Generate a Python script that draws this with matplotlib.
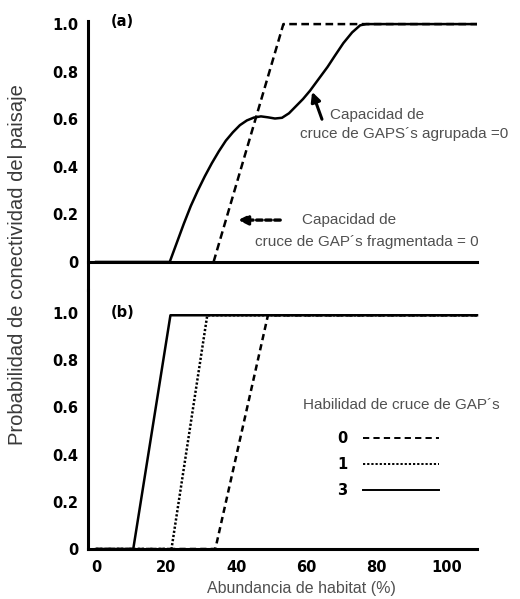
import matplotlib
matplotlib.use("Agg")
import matplotlib.pyplot as plt
from matplotlib.lines import Line2D

# Panel (a): connectivity vs habitat abundance
agrupada_x = [0, 21, 23, 25, 27, 29, 31, 33, 35, 37, 39, 41, 43, 45, 47, 49, 51, 53,
              55, 57, 59, 61, 63, 66, 68, 70.5, 73, 75.3, 77, 108.6]
agrupada_y = [0, 0, 0.08, 0.16, 0.235, 0.30, 0.36, 0.415, 0.465, 0.51, 0.545, 0.575,
              0.595, 0.607, 0.612, 0.608, 0.603, 0.606, 0.625, 0.655, 0.685, 0.72,
              0.76, 0.82, 0.865, 0.92, 0.965, 0.995, 1.0, 1.0]
fragmentada_x = [33.5, 53.4, 108.6]
fragmentada_y = [0, 1.0, 1.0]

# Panel (b): gap-crossing ability 0, 1, 3
cruce_labels = ["0", "1", "3"]
cruce_x = {"0": [0, 34, 49, 108.6],
           "1": [0, 21.5, 31.7, 108.6],
           "3": [0, 10.6, 21.2, 108.6]}
cruce_y = {"0": [0, 0, 0.99, 0.99],
           "1": [0, 0, 0.99, 0.99],
           "3": [0, 0, 0.99, 0.99]}

y_ticks = [0, 0.2, 0.4, 0.6, 0.8, 1.0]
y_ticklabels = ["0", "0.2", "0.4", "0.6", "0.8", "1.0"]
x_ticks = [0, 20, 40, 60, 80, 100]
x_ticklabels = ["0", "20", "40", "60", "80", "100"]

plt.rcParams["font.family"] = ["Liberation Sans", "DejaVu Sans"]
plt.rcParams["lines.scale_dashes"] = False
plt.rcParams["lines.solid_joinstyle"] = "round"

W, H = 520, 599
fig = plt.figure(figsize=(W / 100, H / 100), dpi=100)


def box(l, t, r, b):
    return [l / W, 1 - b / H, (r - l) / W, (b - t) / H]


def fpos(x, y):
    return (x / W, 1 - y / H)


ax_a = fig.add_axes(box(88, 21, 477, 290))
ax_b = fig.add_axes(box(88, 290, 477, 549))

grey = "#505050"
tick_font = dict(fontfamily="DejaVu Sans", fontweight="bold", fontsize=10.5)
styles = {"0": (0, (4.5, 3)), "1": (0, (1.6, 1.4)), "3": "-"}

for ax in (ax_a, ax_b):
    ax.set_xlim(-2.3, 108.6)
    for s in ("top", "right"):
        ax.spines[s].set_visible(False)
    for s in ("left", "bottom"):
        ax.spines[s].set_linewidth(2.2)
    ax.set_yticks(y_ticks, y_ticklabels, **tick_font)
    ax.tick_params(axis="both", length=0)
    ax.tick_params(axis="y", pad=7)

# (a)
ax_a.set_ylim(-0.118, 1.013)
ax_a.spines["bottom"].set_position(("data", 0))
ax_a.set_xticks([])
ax_a.plot(agrupada_x, agrupada_y, color="k", lw=1.8, zorder=3)
ax_a.plot(fragmentada_x, fragmentada_y, color="k", lw=1.8,
          linestyle=(0, (5.5, 3.2)), zorder=3)
ax_a.text(0.058, 1.0, "(a)", transform=ax_a.transAxes, ha="left", va="center", **tick_font)

ax_a.annotate("", xy=(61.6, 0.715), xytext=(64.4, 0.60),
              arrowprops=dict(arrowstyle="-|>", color="k", lw=2.2, mutation_scale=14,
                              shrinkA=0, shrinkB=0))
ax_a.annotate("", xy=(40.5, 0.176), xytext=(52.5, 0.176),
              arrowprops=dict(arrowstyle="-|>", color="k", lw=2.4, mutation_scale=14,
                              linestyle=(0, (4, 2.5)), shrinkA=0, shrinkB=0))

fig.text(*fpos(330, 115), "Capacidad de", color=grey, fontsize=11, va="center")
fig.text(*fpos(300, 134), "cruce de GAPS\u00b4s agrupada =0", color=grey, fontsize=11,
         va="center")
fig.text(*fpos(302, 220), "Capacidad de", color=grey, fontsize=11, va="center")
fig.text(*fpos(255, 242), "cruce de GAP\u00b4s fragmentada = 0", color=grey, fontsize=11,
         va="center")

# (b)
ax_b.set_ylim(0, 1.097)
ax_b.set_xticks(x_ticks, x_ticklabels, **tick_font)
ax_b.tick_params(axis="x", pad=8)
for k in cruce_labels:
    ax_b.plot(cruce_x[k], cruce_y[k], color="k", lw=1.8, linestyle=styles[k],
              clip_on=False, zorder=3)
ax_b.text(0.058, 0.915, "(b)", transform=ax_b.transAxes, ha="left", va="center", **tick_font)

handles = [Line2D([], [], color="k", lw=1.4, linestyle=styles[k]) for k in cruce_labels]
fig.text(*fpos(303, 405), "Habilidad de cruce de GAP\u00b4s", color=grey, fontsize=11,
         va="center")
leg = ax_b.legend(handles, cruce_labels, markerfirst=False, frameon=False,
                  loc="upper left", bbox_to_anchor=fpos(337, 431),
                  bbox_transform=fig.transFigure, borderpad=0, borderaxespad=0,
                  handlelength=5.2, handletextpad=1.1, labelspacing=0.75,
                  prop=dict(family="DejaVu Sans", weight="bold", size=10.5))

fig.text(*fpos(18, 265), "Probabilidad de conectividad del paisaje", rotation=90,
         color="#3a3a3a", fontsize=14.5, ha="center", va="center")
fig.text(*fpos(301, 588), "Abundancia de habitat (%)", color=grey, fontsize=11.5,
         ha="center", va="center")

fig.savefig("out.png", dpi=100)
